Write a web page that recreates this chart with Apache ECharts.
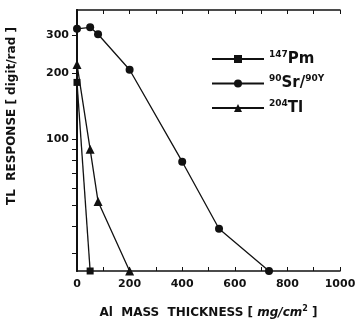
<!DOCTYPE html>
<html>
<head>
<meta charset="utf-8">
<script src="https://cdn.jsdelivr.net/npm/echarts@6/dist/echarts.min.js"></script>
<style>
  html, body { margin: 0; padding: 0; background: #fff; }
  #chart { width: 356px; height: 322px; }
</style>
</head>
<body>
<div id="chart"></div>
<script>
// thickness [mg/cm2], response [digit/rad]
const pmData = [[0, 182], [50, 25]];
const srData = [[0, 320], [50, 325], [80, 302], [200, 208], [400, 79], [540, 39], [730, 25]];
const tlData = [[0, 220], [50, 90], [80, 52], [200, 25]];

const xLabelValues = [0, 200, 400, 600, 800, 1000];
const xTickValues = [0, 100, 200, 300, 400, 500, 600, 700, 800, 900, 1000];
const yLabelValues = [100, 200, 300];
const yTickValues = [30, 40, 50, 60, 70, 80, 90, 100, 200, 300];

const FONT = 'DejaVu Sans';
const INK = '#111';

const legendText = {
  '147Pm': '{s|147}{b|Pm}',
  '90Sr/90Y': '{s|90}{b|Sr/}{s|90Y}',
  '204Tl': '{s|204}{b|Tl}',
};

const chart = echarts.init(document.getElementById('chart'), null, { renderer: 'canvas' });

const frameLine = { show: true, lineStyle: { color: INK, width: 1.6 } };

const option = {
  animation: false,
  grid: { left: 77, right: 16, top: 10, bottom: 51, outerBoundsMode: 'none', containLabel: false },
  legend: {
    orient: 'vertical',
    left: 206,
    top: 45,
    itemWidth: 52,
    itemHeight: 10,
    itemGap: 8,
    data: ['147Pm', '90Sr/90Y', '204Tl'],
    formatter: (name) => legendText[name],
    textStyle: {
      rich: {
        b: { fontFamily: FONT, fontWeight: 'bold', fontSize: 15, color: INK },
        s: { fontFamily: FONT, fontWeight: 'bold', fontSize: 9, color: INK, padding: [0, 0, 9, 0] },
      },
    },
  },
  graphic: [
    {
      type: 'text',
      x: 12,
      y: 116,
      rotation: Math.PI / 2,
      style: {
        text: 'TL  RESPONSE [ digit/rad ]',
        fontFamily: FONT,
        fontWeight: 'bold',
        fontSize: 12,
        fill: INK,
        textAlign: 'center',
        textVerticalAlign: 'middle',
      },
    },
  ],
  xAxis: [
    {
      type: 'value',
      min: 0,
      max: 1000,
      interval: 100,
      position: 'bottom',
      axisLine: frameLine,
      splitLine: { show: false },
      axisTick: { inside: true, length: 4, customValues: xTickValues, lineStyle: { color: INK } },
      axisLabel: {
        customValues: xLabelValues,
        formatter: (v) => String(v),
        fontFamily: FONT,
        fontWeight: 'bold',
        fontSize: 11,
        color: INK,
        margin: 8,
      },
      name: '{b|Al  MASS  THICKNESS [ }{i|mg/cm}{s|2}{b| ]}',
      nameLocation: 'middle',
      nameGap: 34,
      nameTextStyle: {
        rich: {
          b: { fontFamily: FONT, fontWeight: 'bold', fontSize: 12, color: INK },
          i: { fontFamily: FONT, fontWeight: 'bold', fontStyle: 'italic', fontSize: 12, color: INK },
          s: { fontFamily: FONT, fontWeight: 'bold', fontSize: 8, color: INK, padding: [0, 0, 7, 0] },
        },
      },
    },
    {
      type: 'value',
      min: 0,
      max: 1000,
      interval: 100,
      position: 'top',
      axisLine: frameLine,
      splitLine: { show: false },
      axisTick: { inside: true, length: 4, customValues: xTickValues, lineStyle: { color: INK } },
      axisLabel: { show: false },
    },
  ],
  yAxis: [
    {
      type: 'log',
      min: 25,
      max: 390,
      position: 'left',
      axisLine: { show: true, lineStyle: { color: INK, width: 2 } },
      splitLine: { show: false },
      minorTick: { show: false },
      axisTick: { inside: false, length: 5, customValues: yTickValues, lineStyle: { color: INK } },
      axisLabel: {
        customValues: yLabelValues,
        fontFamily: FONT,
        fontWeight: 'bold',
        fontSize: 11,
        color: INK,
        margin: 8,
      },
    },
    {
      type: 'log',
      min: 25,
      max: 390,
      position: 'right',
      axisLine: frameLine,
      splitLine: { show: false },
      axisTick: { inside: true, length: 4, customValues: yTickValues, lineStyle: { color: INK } },
      axisLabel: { show: false },
    },
  ],
  series: [
    {
      name: '147Pm',
      type: 'line',
      data: pmData,
      symbol: 'rect',
      symbolSize: 7,
      clip: false,
      itemStyle: { color: INK },
      lineStyle: { color: INK, width: 1.3 },
    },
    {
      name: '90Sr/90Y',
      type: 'line',
      data: srData,
      symbol: 'circle',
      symbolSize: 8,
      clip: false,
      itemStyle: { color: INK },
      lineStyle: { color: INK, width: 1.3 },
    },
    {
      name: '204Tl',
      type: 'line',
      data: tlData,
      symbol: 'triangle',
      symbolSize: 9,
      clip: false,
      itemStyle: { color: INK },
      lineStyle: { color: INK, width: 1.3 },
    },
  ],
};

chart.setOption(option);
</script>
</body>
</html>
